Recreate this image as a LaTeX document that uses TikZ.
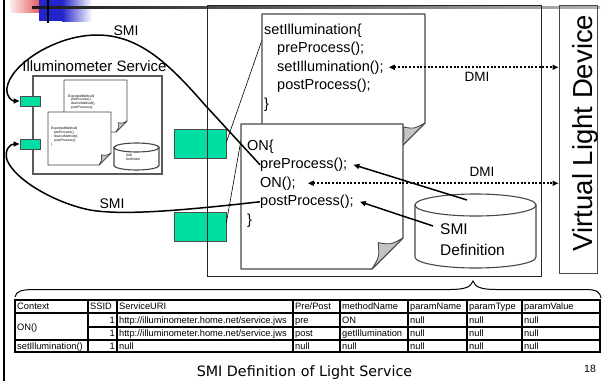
\documentclass[tikz,border=0pt]{standalone}
\usepackage{fontspec}
\setmainfont{Liberation Sans}
\newfontfamily\captionfont{DejaVu Sans}
\usetikzlibrary{arrows.meta}

\definecolor{tealbox}{RGB}{0,222,164}
\definecolor{flapgray}{RGB}{196,196,196}
\definecolor{headblue}{RGB}{36,36,204}
\definecolor{headred}{RGB}{232,96,96}

\newcommand\fz[1]{\fontsize{#1}{#1}\selectfont}

% sheet of paper with a folded bottom-right corner: x0, y0, x1, y1, fold size
\newcommand\foldedsheet[5]{%
  \filldraw[sheet] (#1,#2) -- (#3,#2) -- (#3,{#4-#5}) -- ({#3-#5},#4) -- (#1,#4) -- cycle;
  \filldraw[flap] (#3,{#4-#5})
     .. controls ({#3-0.4*#5},{#4-0.78*#5}) .. ({#3-0.8*#5},{#4-0.85*#5})
     .. controls ({#3-0.76*#5},{#4-0.4*#5}) .. ({#3-#5},#4) -- cycle;
}
% drum (data store): centre x, half width, top rim y, bottom rim y, rim half height
\newcommand\drum[5]{%
  \filldraw[drumline] ({#1-#2},#3) -- ({#1-#2},#4)
     arc[start angle=180, end angle=360, x radius=#2pt, y radius=#5pt]
     -- ({#1+#2},#3) -- cycle;
  \filldraw[drumline] (#1,#3) ellipse[x radius=#2pt, y radius=#5pt];
}

\begin{document}
\begin{tikzpicture}[x=1pt, y=-1pt,
  sheet/.style={draw=black!72, line width=1.2pt, fill=white, line join=round},
  flap/.style={draw=black!72, line width=0.9pt, fill=flapgray, line join=round},
  drumline/.style={draw=black!72, line width=1.1pt, fill=white},
  code/.style={inner sep=0pt, anchor=base west, font=\fz{14.5}},
  tinytext/.style={inner sep=0pt, anchor=base west, font=\fz{3.4}},
  label/.style={inner sep=0pt, font=\fz{14}},
  greenbox/.style={draw=black!70, fill=tealbox, line width=0.8pt, inner sep=0pt},
  smiarrow/.style={line width=1.5pt, -{Triangle[length=6pt,width=5pt]}},
  dmi/.style={line width=2pt, dash pattern=on 2pt off 1.7pt,
              {Triangle[length=6pt,width=5pt]}-{Triangle[length=6pt,width=5pt]}},
  thinline/.style={line width=0.6pt},
  cell/.style={inner sep=0pt, anchor=base west, font=\fz{9.3}},
  cellr/.style={inner sep=0pt, anchor=base east, font=\fz{9.3}},
  gridline/.style={line width=1.2pt}
]
\useasboundingbox (0,0) rectangle (603,381);

% ---------- slide header ornament and left edge ----------
\shade[left color=headred!12, right color=headred] (10,0) rectangle (39,12);
\fill[headblue] (39,0) rectangle (62,21);
\shade[left color=headblue, right color=white] (62,0) rectangle (92,21);
\shade[left color=black!90, right color=black!30] (32,6.3) rectangle (600,8.7);
\draw[line width=2.2pt] (48,0) -- (48,23);
\draw[line width=2.4pt] (4,0) -- (4,381);

% ---------- illuminometer service ----------
\node[inner sep=0pt, font=\fz{15}] (illumlabel) at (94.5,66) {Illuminometer Service};
\draw[draw=black!65, line width=1.4pt] (33,76) rectangle (162,174);
\begin{scope}[sheet/.append style={line width=0.9pt}, flap/.append style={line width=0.7pt}]
  \foldedsheet{64}{80}{127}{132}{11}
  \node[tinytext] (b0) at (68,97.2)  {ExportedMethod\{};
  \node[tinytext] (b1) at (71,100.9) {preProcess();};
  \node[tinytext] (b2) at (71,104.5) {deviceMethod();};
  \node[tinytext] (b3) at (71,108.2) {postProcess();};
  \foldedsheet{48}{112}{111}{165}{12}
  \node[tinytext] (f0) at (51,129.2) {ExportedMethod\{};
  \node[tinytext] (f1) at (54,133.2) {preProcess();};
  \node[tinytext] (f2) at (54,137.2) {deviceMethod();};
  \node[tinytext] (f3) at (54,141.2) {postProcess();};
  \node[tinytext] (f4) at (51,145.2) {\}};
  \drum{136.5}{22.5}{147.5}{165.5}{4.5}
  \node[tinytext] (sd0) at (126,156.2) {SMI};
  \node[tinytext] (sd1) at (126,160.2) {Definition};
\end{scope}
\node[greenbox, minimum width=20pt, minimum height=10pt] (g1) at (30,101) {};
\node[greenbox, minimum width=20pt, minimum height=10pt] (g2) at (30,144) {};

% ---------- light service ----------
\node[greenbox, minimum width=52pt, minimum height=29pt] (G1) at (200,143.5) {};
\node[greenbox, minimum width=52pt, minimum height=29pt] (G2) at (200,226.5) {};
\draw[draw=black!85, line width=0.9pt] (207,5) rectangle (541,276);

\coordinate (setdocside) at (262,40);
\coordinate (ondocside) at (241,140);
\draw[thinline] ([yshift=1.5pt]G1.east) -- (setdocside);
\draw[thinline] ([yshift=4pt]G2.east) -- (ondocside);

\foldedsheet{262}{14}{425}{150}{27}
\node[code] (s0) at (264,34)   {setIllumination\{};
\node[code] (s1) at (277,52.5) {preProcess();};
\node[code] (s2) at (277,71)   {setIllumination();};
\node[code] (s3) at (277,89.5) {postProcess();};
\node[code] (s4) at (264,108)  {\}};

\foldedsheet{241}{124}{403}{269}{31}
\node[code] (o0) at (247,150)   {ON\{};
\node[code] (o1) at (260,168.5) {preProcess();};
\node[code] (o2) at (260,187)   {ON();};
\node[code] (o3) at (260,205.5) {postProcess();};
\node[code] (o4) at (247,224)   {\}};

\drum{475.5}{60.5}{205}{257}{11}
\node[inner sep=0pt, anchor=base west, font=\fz{15.5}] (defa) at (440,234.5) {SMI};
\node[inner sep=0pt, anchor=base west, font=\fz{15.5}] (defb) at (440,255.5) {Definition};

% ---------- virtual light device ----------
\node[draw=black!72, line width=1pt, minimum width=38pt, minimum height=268pt, inner sep=0pt]
  (vld) at (578,139) {};
\node[rotate=90, anchor=base, inner sep=0pt, font=\fz{27.5}] (vldlabel) at (592,133)
  {Virtual Light Device};

% ---------- device method invocations ----------
\draw[dmi] ([xshift=5pt]s2.east) -- (s2.east -| vld.west);
\node[inner sep=0pt, font=\fz{13.5}] (dmi1) at (477,77) {DMI};
\draw[dmi] ([xshift=12pt]o2.east) -- (o2.east -| vld.west);
\node[inner sep=0pt, font=\fz{13.5}] (dmi2) at (482,172) {DMI};

% ---------- SMI definition lookups ----------
\coordinate (cylA) at (467,200);
\coordinate (cylB) at (433,226);
\draw[smiarrow] (cylA) -- ([xshift=6pt]o1.east);
\draw[smiarrow] (cylB) -- ([xshift=6pt]o3.east);

% ---------- service method invocations ----------
\draw[smiarrow] (o1.west) -- (205,105)
   .. controls (170,65) and (140,35) .. (97,35)
   .. controls (55,35) and (10,65) .. (7,88)
   .. controls (6,97) and (12,101) .. (g1.west);
\node[label] (smi1) at (126,31) {SMI};
\draw[smiarrow] (o3.west)
   .. controls (170,212) and (120,215) .. (90,210)
   .. controls (55,203) and (15,180) .. (7,160)
   .. controls (4,150) and (10,144) .. (g2.west);
\node[label] (smi2) at (112,204) {SMI};

% ---------- brace and SMI definition table ----------
\draw[line width=1pt] (15,297) .. controls (16,291) and (22,289.5) .. (35,289.5)
   -- (450,289.5) .. controls (465,289.5) and (471,287) .. (473,281)
   .. controls (475,287) and (481,289.5) .. (496,289.5)
   -- (585,289.5) .. controls (597,289.5) and (600,292) .. (601,298);

\draw[line width=1.4pt] (15,300) rectangle (600,352);
\draw[line width=2.6pt] (15,313) -- (600,313);
\draw[gridline] (88,327) -- (600,327);
\draw[gridline] (15,340) -- (600,340);
\foreach \cx in {88,117,293,340,408,467,522}
  \draw[gridline] (\cx,300) -- (\cx,352);

\node[cell] (h1) at (17,309.8)  {Context};
\node[cell] (h2) at (90,309.8)  {SSID};
\node[cell] (h3) at (119,309.8) {ServiceURI};
\node[cell] (h4) at (295,309.8) {Pre/Post};
\node[cell] (h5) at (342,309.8) {methodName};
\node[cell] (h6) at (410,309.8) {paramName};
\node[cell] (h7) at (469,309.8) {paramType};
\node[cell] (h8) at (524,309.8) {paramValue};

\node[cell] (a1) at (17,330.3) {ON()};
\node[cellr] (a2) at (115,323.3) {1};
\node[cell] (a3) at (119,323.3) {http://illuminometer.home.net/service.jws};
\node[cell] (a4) at (295,323.3) {pre};
\node[cell] (a5) at (342,323.3) {ON};
\node[cell] (a6) at (410,323.3) {null};
\node[cell] (a7) at (469,323.3) {null};
\node[cell] (a8) at (524,323.3) {null};

\node[cellr] (b2r) at (115,336.8) {1};
\node[cell] (b3r) at (119,336.8) {http://illuminometer.home.net/service.jws};
\node[cell] (b4r) at (295,336.8) {post};
\node[cell] (b5r) at (342,336.8) {getIllumination};
\node[cell] (b6r) at (410,336.8) {null};
\node[cell] (b7r) at (469,336.8) {null};
\node[cell] (b8r) at (524,336.8) {null};

\node[cell] (c1) at (17,349.3) {setIllumination()};
\node[cellr] (c2) at (115,349.3) {1};
\node[cell] (c3) at (119,349.3) {null};
\node[cell] (c4) at (295,349.3) {null};
\node[cell] (c5) at (342,349.3) {null};
\node[cell] (c6) at (410,349.3) {null};
\node[cell] (c7) at (469,349.3) {null};
\node[cell] (c8) at (524,349.3) {null};

\node[inner sep=0pt, anchor=base, font=\captionfont\fz{14.3}] (caption) at (304.5,376)
  {SMI Definition of Light Service};
\node[inner sep=0pt, font=\fz{10.5}] (pageno) at (590,369) {18};
\end{tikzpicture}
\end{document}
